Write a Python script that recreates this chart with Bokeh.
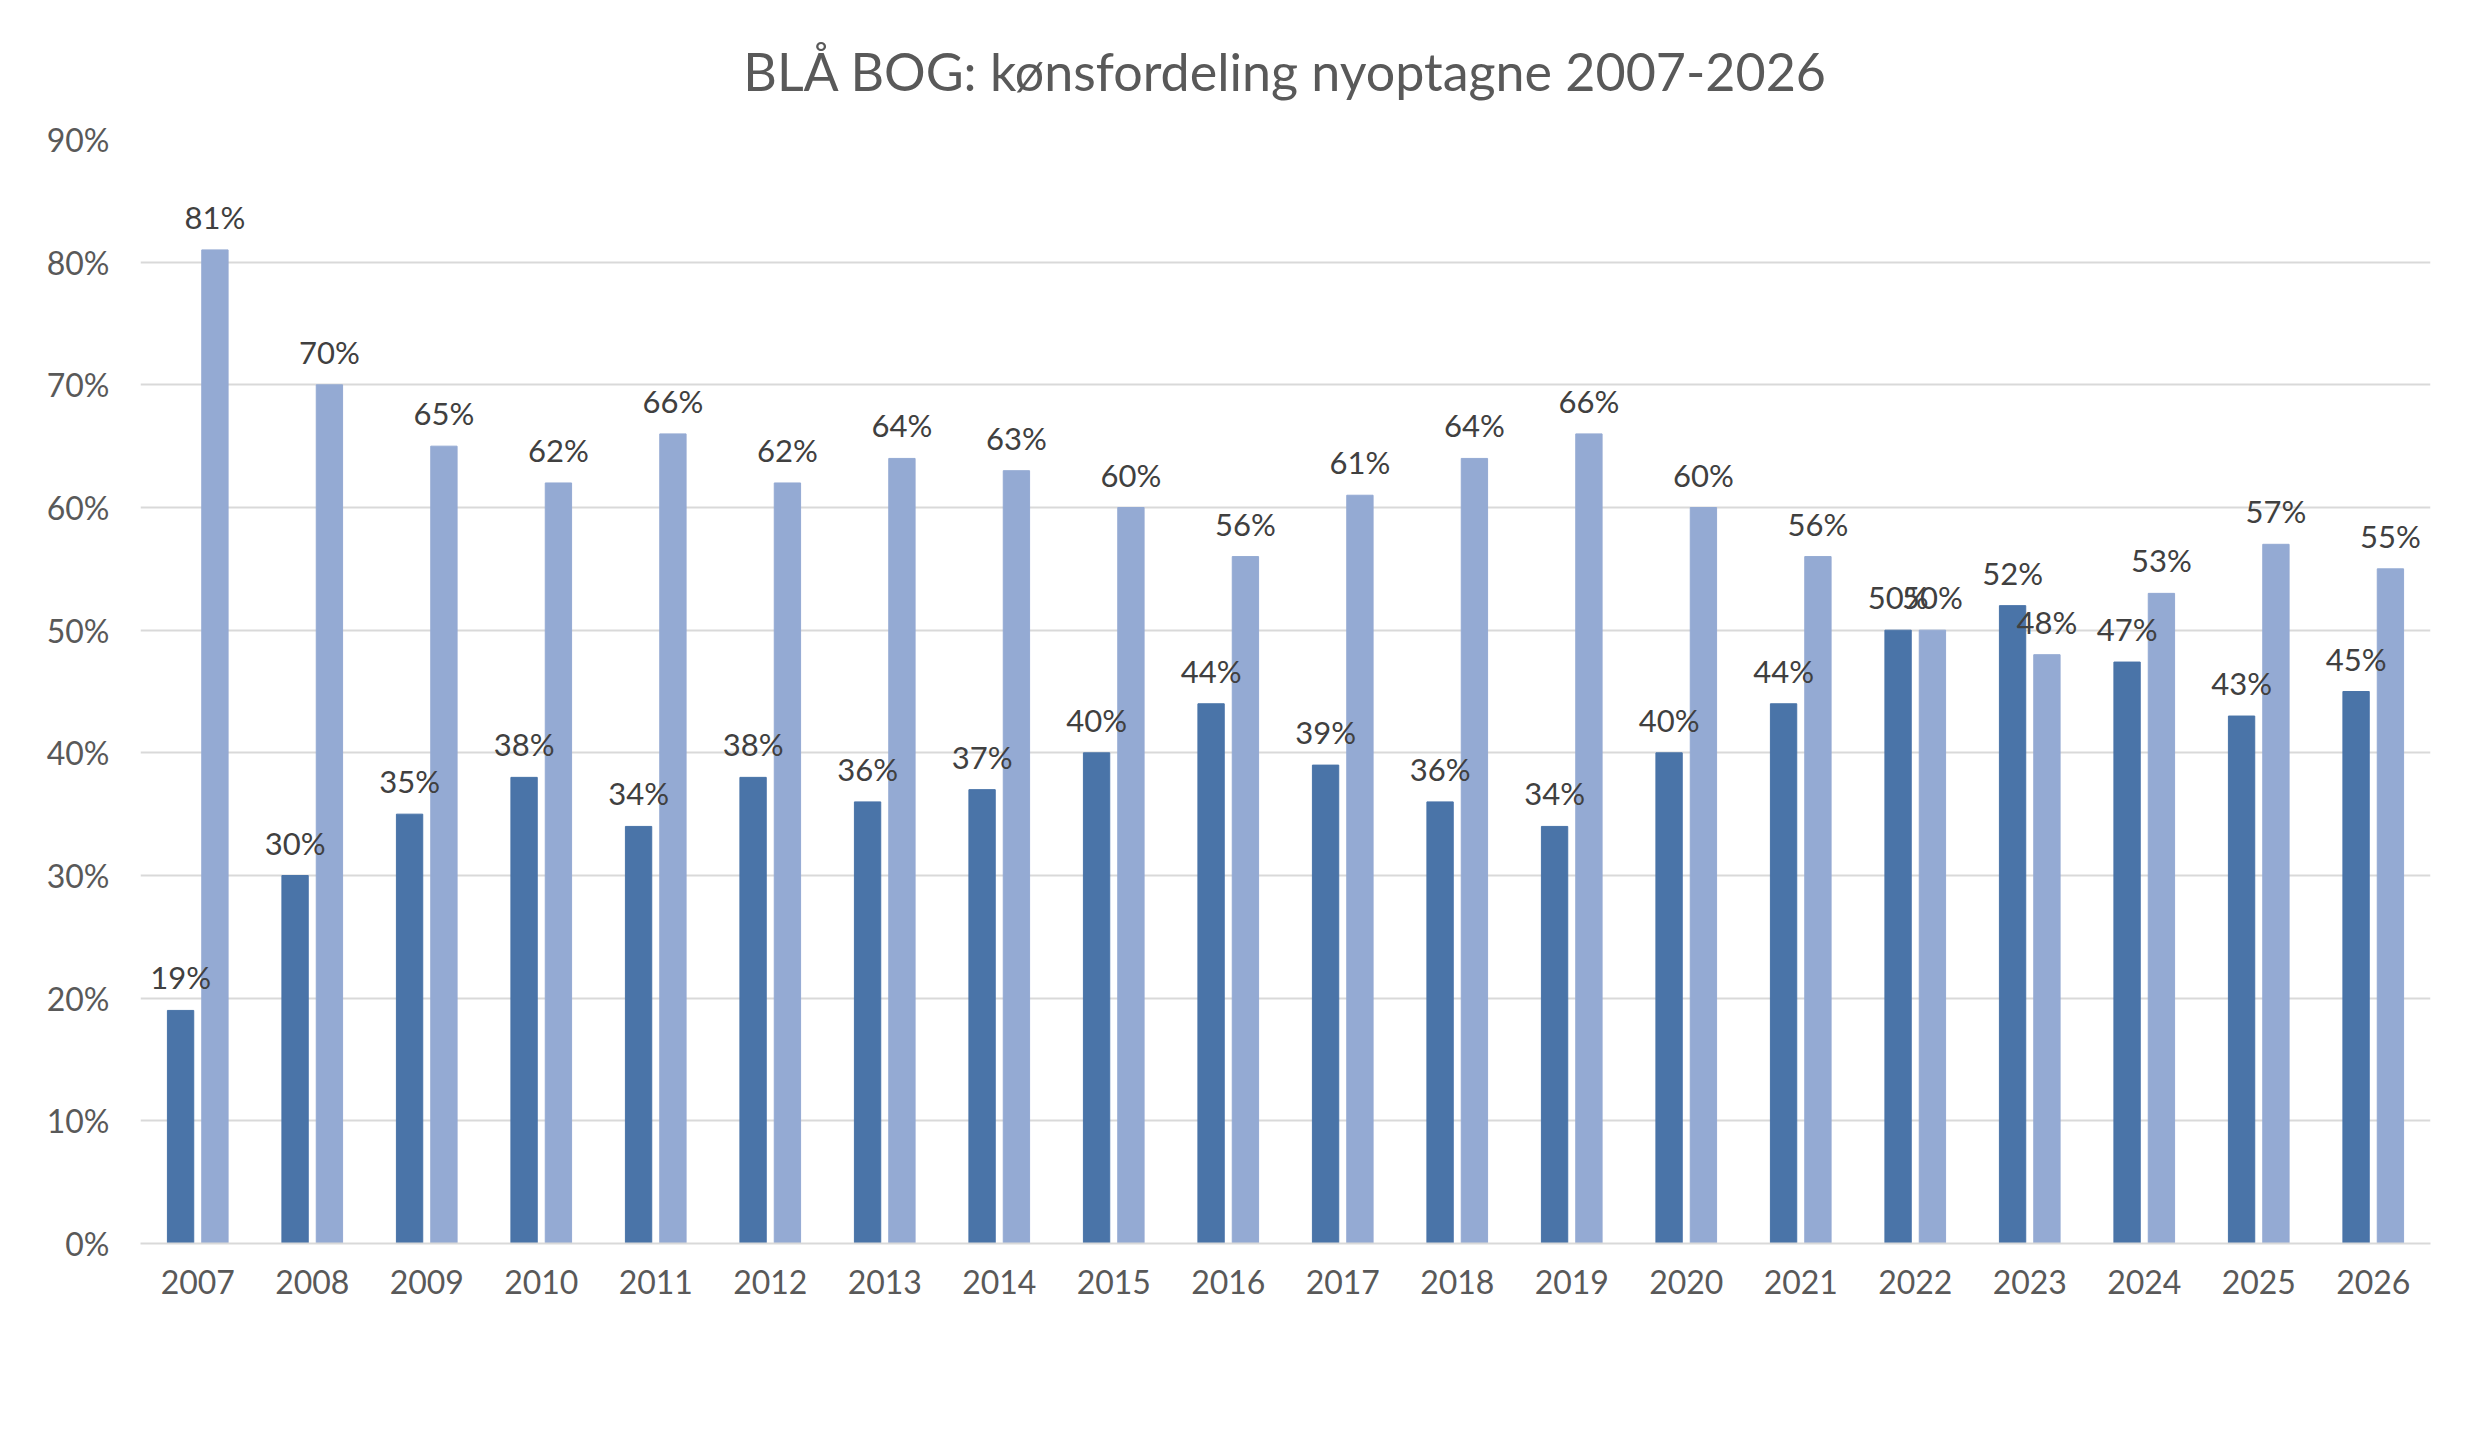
from bokeh.plotting import figure
from bokeh.models import ColumnDataSource, Legend, LegendItem, NumeralTickFormatter, FixedTicker
from bokeh.transform import dodge
from bokeh.core.properties import value
from bokeh.embed import file_html
from bokeh.resources import INLINE

years = [str(y) for y in range(2007, 2027)]
kvinder = [19, 30, 35, 38, 34, 38, 36, 37, 40, 44, 39, 36, 34, 40, 44, 50, 52, 47.4, 43, 45]
maend = [81, 70, 65, 62, 66, 62, 64, 63, 60, 56, 61, 64, 66, 60, 56, 50, 48, 53, 57, 55]
k_labels = ["19%", "30%", "35%", "38%", "34%", "38%", "36%", "37%", "40%", "44%", "39%", "36%", "34%", "40%", "44%", "50%", "52%", "47%", "43%", "45%"]
m_labels = [f"{v}%" for v in maend]

src = ColumnDataSource(dict(year=years, k=[v / 100 for v in kvinder], m=[v / 100 for v in maend],
                            kl=k_labels, ml=m_labels))

FONT = "Lato"
p = figure(x_range=years, y_range=(0, 0.9), width=2475, height=1440,
           output_backend="svg", toolbar_location=None,
           title="BLÅ BOG: kønsfordeling nyoptagne 2007-2026",
           min_border_left=140, min_border_right=45, min_border_top=40, min_border_bottom=197)
p.title.align = "center"
p.title.text_font = FONT
p.title.text_font_size = "52px"
p.title.text_font_style = "normal"
p.title.text_color = "#595959"
p.title.standoff = 75

KC, MC = "#4a74a8", "#94aad3"
rk = p.vbar(x=dodge("year", -0.15, range=p.x_range), top="k", width=0.23, color=KC, source=src)
rm = p.vbar(x=dodge("year", 0.15, range=p.x_range), top="m", width=0.23, color=MC, source=src)
for off, col, lab in [(-0.15, "k", "kl"), (0.15, "m", "ml")]:
    p.text(x=dodge("year", off, range=p.x_range), y=col, text=lab, source=src,
           text_align="center", text_baseline="bottom", y_offset=-14,
           text_font=value(FONT), text_font_size="31px", text_color="#404040")

p.yaxis.ticker = FixedTicker(ticks=[i / 10 for i in range(10)])
p.yaxis.formatter = NumeralTickFormatter(format="0%")
for ax in (p.xaxis, p.yaxis):
    ax.major_label_text_font = FONT
    ax.major_label_text_font_size = "32px"
    ax.major_label_text_color = "#595959"
    ax.major_tick_line_color = None
    ax.minor_tick_line_color = None
p.yaxis.axis_line_color = None
p.xaxis.axis_line_color = "#d9d9d9"
p.xaxis.axis_line_width = 2
p.xaxis.major_label_standoff = 20
p.yaxis.major_label_standoff = 25
p.xgrid.grid_line_color = None
p.ygrid.grid_line_color = "#d9d9d9"
p.ygrid.grid_line_width = 2
p.outline_line_color = None
p.x_range.range_padding = 0.0

legend = Legend(items=[LegendItem(label="Kvinder", renderers=[rk]), LegendItem(label="Mænd", renderers=[rm])],
                orientation="horizontal", location=(950, -175), border_line_color=None,
                background_fill_alpha=0,
                label_text_font=FONT, label_text_font_size="32px", label_text_color="#595959",
                glyph_width=22, glyph_height=22, spacing=40, margin=0)
p.add_layout(legend, "center")
p.border_fill_color = "white"
p.background_fill_color = "white"

html = file_html(p, INLINE)
html = html.replace("<body>", '<body style="margin:8px"><div style="border:2px solid #d9d9d9;display:inline-block">', 1)
html = html.replace("</body>", "</div></body>", 1)
open("out.html", "w").write(html)
